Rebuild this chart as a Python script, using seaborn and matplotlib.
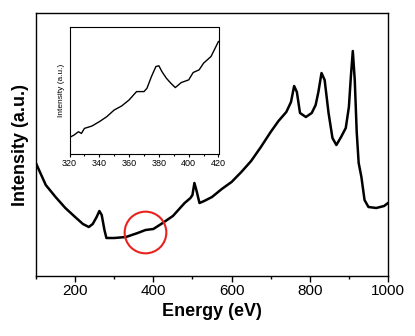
import numpy as np
import pandas as pd
import matplotlib
matplotlib.use("Agg")
import matplotlib.pyplot as plt
import seaborn as sns
from matplotlib.ticker import MultipleLocator

# Main spectrum (arbitrary intensity units)
energy = [100, 110, 125, 150, 175, 200, 220, 235, 245, 255, 262, 268, 275, 280, 300,
          330, 360, 380, 400, 420, 450, 480, 495, 500, 505, 510, 518, 530, 550, 575,
          600, 625, 650, 675, 700, 720, 740, 752, 760, 767, 775, 790, 805, 815, 822,
          830, 838, 848, 858, 868, 880, 892, 900, 905, 910, 915, 920, 925, 932, 940,
          950, 970, 990, 1000]
intensity = [112.7, 104, 91, 79, 68, 59, 52, 49, 52, 59, 65, 61, 46, 38, 38,
             39, 43, 46, 47, 52, 60, 73, 78, 81, 93, 86, 73, 75, 79, 87,
             94, 104, 115, 129, 144, 155, 164, 174, 190, 184, 163, 159, 163, 171, 184,
             203, 196, 163, 138, 131, 139, 148, 169, 199, 225, 196, 144, 113, 99, 76,
             69, 68, 70, 73]

# Inset zoom (320-420 eV)
inset_energy = [320, 323, 326, 328, 330, 335, 340, 345, 350, 355, 360, 365, 370, 372,
                375, 378, 380, 382, 385, 388, 391, 395, 400, 403, 407, 410, 415, 420]
inset_intensity = [48, 55, 65, 60, 75, 82, 95, 110, 130, 142, 160, 185, 185, 195,
                   230, 260, 262, 245, 225, 210, 197, 212, 220, 242, 250, 270, 290, 335]

main_ticks = [200, 400, 600, 800, 1000]
inset_ticks = [320, 340, 360, 380, 400, 420]

sns.set_style("white")
plt.rcParams['font.family'] = ['Liberation Sans', 'DejaVu Sans']
plt.rcParams['text.color'] = 'black'
plt.rcParams['axes.labelcolor'] = 'black'
plt.rcParams['xtick.color'] = 'black'
plt.rcParams['ytick.color'] = 'black'

fig = plt.figure(figsize=(4.15, 3.36), dpi=100)
ax = fig.add_axes([36/415, 1 - 276/336, 352/415, 263/336])

df = pd.DataFrame({"energy": energy, "intensity": intensity})
sns.lineplot(data=df, x="energy", y="intensity", ax=ax, color="black", linewidth=1.8)
ax.set_xlim(100, 1000)
ax.set_ylim(0, 263)
ax.set_xticks(main_ticks)
ax.xaxis.set_minor_locator(MultipleLocator(100))
ax.set_yticks([])
ax.tick_params(axis="x", which="major", direction="out", length=4, width=1,
               labelsize=11, pad=2, bottom=True)
ax.tick_params(axis="x", which="minor", direction="out", length=2.5, width=1, bottom=True)
ax.set_xlabel("Energy (eV)", fontsize=13, fontweight="bold", labelpad=3)
ax.set_ylabel("Intensity (a.u.)", fontsize=13, fontweight="bold", labelpad=5)
for s in ax.spines.values():
    s.set_color("black")
    s.set_linewidth(1)

# Red circle marking the zoom region (round in screen space)
ax.plot([379], [44], marker="o", markersize=30, markerfacecolor="none",
        markeredgecolor="#e8231f", markeredgewidth=1.5, linestyle="none")

# Inset
axi = fig.add_axes([69.5/415, 1 - 153.5/336, 149/415, 126.5/336])
dfi = pd.DataFrame({"energy": inset_energy, "intensity": inset_intensity})
sns.lineplot(data=dfi, x="energy", y="intensity", ax=axi, color="black", linewidth=1.0)
axi.set_xlim(320, 420)
axi.set_ylim(0, 378)
axi.set_xticks(inset_ticks)
axi.xaxis.set_minor_locator(MultipleLocator(10))
axi.set_yticks([])
axi.tick_params(axis="x", which="major", direction="out", length=2.5, width=0.8,
                labelsize=6.5, pad=1.5, bottom=True)
axi.tick_params(axis="x", which="minor", direction="out", length=1.5, width=0.8, bottom=True)
axi.set_xlabel("")
axi.set_ylabel("Intensity (a.u.)", fontsize=6, labelpad=3)
for s in axi.spines.values():
    s.set_color("black")
    s.set_linewidth(0.8)

fig.savefig("out.png", dpi=100)
